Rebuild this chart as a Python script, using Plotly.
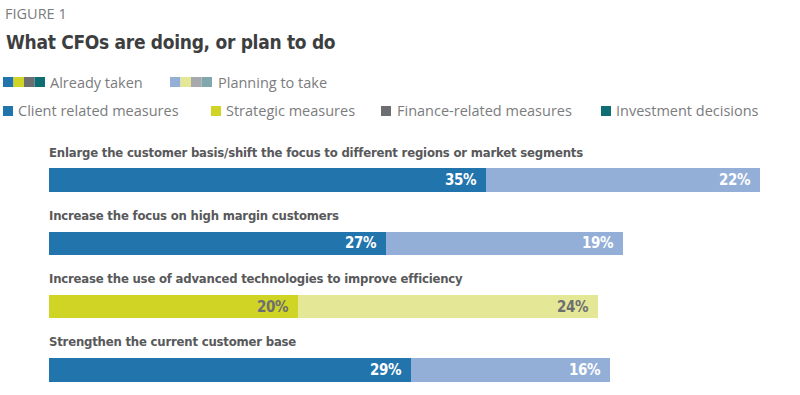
import plotly.graph_objects as go

categories = [
    "Enlarge the customer basis/shift the focus to different regions or market segments",
    "Increase the focus on high margin customers",
    "Increase the use of advanced technologies to improve efficiency",
    "Strengthen the current customer base",
]
already_taken = [35, 27, 20, 29]
planning = [22, 19, 24, 16]
groups = ["Client related measures", "Client related measures", "Strategic measures", "Client related measures"]

group_names = ["Client related measures", "Strategic measures", "Finance-related measures", "Investment decisions"]
dark_colors = {"Client related measures": "#2274ad", "Strategic measures": "#cfd425",
               "Finance-related measures": "#6d6e71", "Investment decisions": "#0e6e74"}
light_colors = {"Client related measures": "#93aed7", "Strategic measures": "#e4e795",
                "Finance-related measures": "#a7a9ac", "Investment decisions": "#7fa7ad"}
text_colors = {"Client related measures": "white", "Strategic measures": "#6d6e71",
               "Finance-related measures": "white", "Investment decisions": "white"}

COND = "DejaVu Sans Condensed, Liberation Sans Narrow, Open Sans Condensed, DejaVu Sans, sans-serif"
REG = "Open Sans, sans-serif"
W, H = 800, 395


def cond(t, ls=-0.2):
    return f'<span style="font-stretch:condensed;letter-spacing:{ls}px">{t}</span>'


fig = go.Figure()
fig.add_trace(go.Bar(
    y=categories, x=already_taken, orientation="h",
    marker=dict(color=[dark_colors[g] for g in groups], line=dict(width=0)),
    name="Already taken", showlegend=False, hoverinfo="skip",
))
fig.add_trace(go.Bar(
    y=categories, x=planning, orientation="h", base=already_taken,
    marker=dict(color=[light_colors[g] for g in groups], line=dict(width=0)),
    name="Planning to take", showlegend=False, hoverinfo="skip",
))

annotations = []
for cat, a, p, g in zip(categories, already_taken, planning, groups):
    annotations.append(dict(x=0, y=cat, xref="x", yref="y", text=cond(cat, -0.2), showarrow=False,
                            xanchor="left", yanchor="middle", yshift=28, xshift=-2,
                            font=dict(family=COND, size=13, color="#58595b", weight="bold")))
    annotations.append(dict(x=a, y=cat, xref="x", yref="y", text=cond(f"{a}%", -0.4), showarrow=False,
                            xanchor="right", yanchor="middle", xshift=-7,
                            font=dict(family=COND, size=15, color=text_colors[g], weight="bold")))
    annotations.append(dict(x=a + p, y=cat, xref="x", yref="y", text=cond(f"{p}%", -0.4), showarrow=False,
                            xanchor="right", yanchor="middle", xshift=-7,
                            font=dict(family=COND, size=15, color=text_colors[g], weight="bold")))


def px(x):
    return x / W


def py(y):
    return 1 - y / H


GRAY = "#7b7c7e"
header = [
    dict(text="FIGURE 1", x=3, y=14, font=dict(family=REG, size=14.5, color=GRAY)),
    dict(text=cond("What CFOs are doing, or plan to do", -0.3), x=4, y=42,
         font=dict(family=COND, size=19, color="#3d3e40", weight="bold")),
    dict(text="Already taken", x=48, y=82, font=dict(family=REG, size=14.5, color=GRAY)),
    dict(text="Planning to take", x=216, y=82, font=dict(family=REG, size=14.5, color=GRAY)),
    dict(text="Client related measures", x=16, y=111, font=dict(family=REG, size=14.5, color=GRAY)),
    dict(text="Strategic measures", x=224, y=111, font=dict(family=REG, size=14.5, color=GRAY)),
    dict(text="Finance-related measures", x=395, y=111, font=dict(family=REG, size=14.5, color=GRAY)),
    dict(text="Investment decisions", x=614, y=111, font=dict(family=REG, size=14.5, color=GRAY)),
]
for h in header:
    annotations.append(dict(x=px(h["x"]), y=py(h["y"]), xref="paper", yref="paper", text=h["text"],
                            showarrow=False, xanchor="left", yanchor="middle", font=h["font"]))

shapes = []


def square(x0, y0, color, w=10.5, hgt=10):
    shapes.append(dict(type="rect", xref="paper", yref="paper", x0=px(x0), x1=px(x0 + w),
                       y0=py(y0 + hgt), y1=py(y0), fillcolor=color, line=dict(width=0)))


for i, g in enumerate(group_names):
    square(3 + i * 10.5, 77, dark_colors[g])
    square(170 + i * 10.5, 77, light_colors[g])
sq2 = [3, 211, 381, 601]
for x0, g in zip(sq2, group_names):
    square(x0, 106, dark_colors[g], w=10, hgt=10)

fig.update_layout(
    width=W, height=H,
    margin=dict(l=0, r=0, t=0, b=0),
    barmode="stack", bargap=0.63,
    plot_bgcolor="white", paper_bgcolor="white",
    xaxis=dict(range=[0, 57], visible=False, fixedrange=True, domain=[49 / W, 760 / W]),
    yaxis=dict(range=[3.397, -0.79], visible=False, fixedrange=True, domain=[0, 1 - 130 / H]),
    annotations=annotations, shapes=shapes, showlegend=False,
)

fig.write_html("out.html", config={"displayModeBar": False},
               post_script="document.body.style.margin='0';")
